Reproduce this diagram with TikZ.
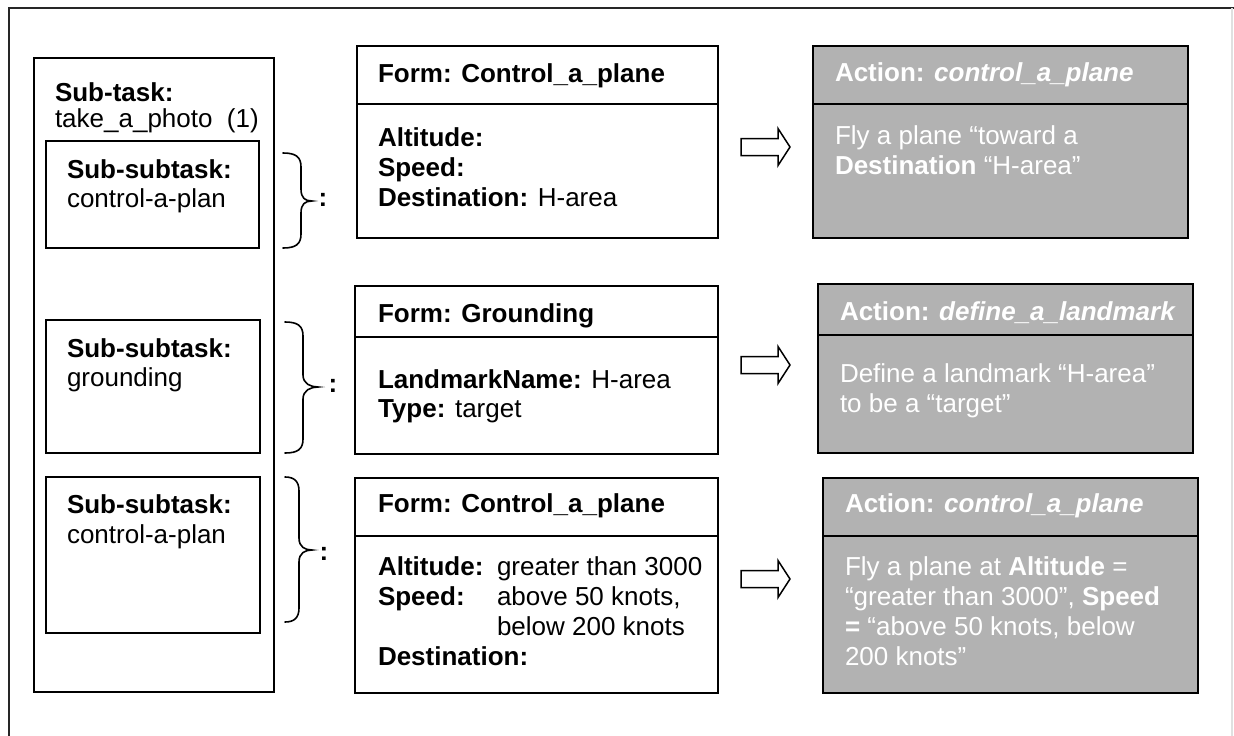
\documentclass[tikz,border=0pt]{standalone}
\usepackage{fontspec}
\setmainfont{Liberation Sans}
\definecolor{actgray}{RGB}{178,178,178}
\newcommand\curlybrace[6]{% x0, xm, xt, ytop, ymid, ybot
  \draw[bracestyle] (#1,#4) .. controls (#2-5,#4) and (#2,#4+4) .. (#2,#4+14)
    -- (#2,#5-12) .. controls (#2,#5-3) and (#3-7,#5) .. (#3,#5)
    .. controls (#3-7,#5) and (#2,#5+3) .. (#2,#5+12)
    -- (#2,#6-14) .. controls (#2,#6-4) and (#2-5,#6) .. (#1,#6);}
\begin{document}
\begin{tikzpicture}[x=1pt,y=-1pt,
  every node/.style={inner sep=0pt, outer sep=0pt},
  box/.style={draw=black, line width=2pt, anchor=north west},
  actbox/.style={box, fill=actgray},
  txt/.style={anchor=base west, font=\fontsize{26}{30}\selectfont},
  acttxt/.style={txt, text=white},
  colon/.style={anchor=base, font=\fontsize{26}{30}\selectfont\bfseries},
  bracestyle/.style={line width=1.6pt, line cap=round},
  blockarrow/.style={draw=black, line width=1.5pt, fill=white, line join=miter}
]
\useasboundingbox (0,0) rectangle (1234,736);

% outer frame
\draw[black!85, line width=2pt] (9,745) -- (9,8) -- (1234,8);
\draw[black!12, line width=1.5pt] (1232,8) -- (1232,745);

% ---------- sub-task column ----------
\node[box, minimum width=240pt, minimum height=634pt] (st) at (34,58) {};
\node[txt] (stl1) at (55,101) {\textbf{Sub-task:}};
\node[txt] (stl2) at (55,127) {take\_a\_photo~~(1)};

\node[box, minimum width=213pt, minimum height=107pt] (ss1) at (46,141) {};
\node[txt] (ss1a) at (67,178) {\textbf{Sub-subtask:}};
\node[txt] (ss1b) at (67,207) {control-a-plan};

\node[box, minimum width=214pt, minimum height=133pt] (ss2) at (46,320) {};
\node[txt] (ss2a) at (67,357) {\textbf{Sub-subtask:}};
\node[txt] (ss2b) at (67,386) {grounding};

\node[box, minimum width=214pt, minimum height=156pt] (ss3) at (46,477) {};
\node[txt] (ss3a) at (67,513) {\textbf{Sub-subtask:}};
\node[txt] (ss3b) at (67,543) {control-a-plan};

% ---------- braces and colons ----------
\curlybrace{283}{301}{312}{153}{201}{248}
\curlybrace{285}{303}{318}{322}{387}{453}
\curlybrace{285}{299}{312}{477}{550}{622}
\node[colon] (c1) at (323,206) {:};
\node[colon] (c2) at (333,392) {:};
\node[colon] (c3) at (324,560) {:};

% ---------- forms ----------
\node[box, minimum width=361pt, minimum height=192pt] (f1) at (357,46) {};
\draw[line width=2pt] (357,104) -- (718,104);
\node[txt] (f1t) at (378,82) {\textbf{Form: Control\_a\_plane}};
\node[txt] (f1a) at (378,146) {\textbf{Altitude:}};
\node[txt] (f1b) at (378,176) {\textbf{Speed:}};
\node[txt] (f1c) at (378,206) {\textbf{Destination:} H-area};

\node[box, minimum width=363pt, minimum height=168pt] (f2) at (355,286) {};
\draw[line width=2pt] (355,337) -- (718,337);
\node[txt] (f2t) at (378,322) {\textbf{Form: Grounding}};
\node[txt] (f2a) at (378,388) {\textbf{LandmarkName:} H-area};
\node[txt] (f2b) at (378,417) {\textbf{Type:} target};

\node[box, minimum width=363pt, minimum height=215pt] (f3) at (355,478) {};
\draw[line width=2pt] (355,536) -- (718,536);
\node[txt] (f3t) at (378,512) {\textbf{Form: Control\_a\_plane}};
\node[txt] (f3a) at (378,575) {\textbf{Altitude:}};
\node[txt] (f3av) at (497,575) {greater than 3000};
\node[txt] (f3b) at (378,605) {\textbf{Speed:}};
\node[txt] (f3bv) at (497,605) {above 50 knots,};
\node[txt] (f3bw) at (497,635) {below 200 knots};
\node[txt] (f3c) at (378,665) {\textbf{Destination:}};

% ---------- block arrows ----------
\foreach \c in {147,365,579}
  \draw[blockarrow] (741,\c-8.5) -- (778,\c-8.5) -- (778,\c-18.5) -- (790,\c)
    -- (778,\c+18.5) -- (778,\c+8.5) -- (741,\c+8.5) -- cycle;

% ---------- actions ----------
\node[actbox, minimum width=375pt, minimum height=192pt] (a1) at (813,46) {};
\draw[line width=2pt] (813,104) -- (1188,104);
\node[acttxt] (a1t) at (835,81) {\textbf{Action: \textit{control\_a\_plane}}};
\node[acttxt] (a1a) at (835,144) {Fly a plane “toward a};
\node[acttxt] (a1b) at (835,174) {\textbf{Destination} “H-area”};

\node[actbox, minimum width=375pt, minimum height=169pt] (a2) at (818,284) {};
\draw[line width=2pt] (818,335) -- (1193,335);
\node[acttxt] (a2t) at (840,320) {\textbf{Action: \textit{define\_a\_landmark}}};
\node[acttxt] (a2a) at (840,382) {Define a landmark “H-area”};
\node[acttxt] (a2b) at (840,412) {to be a “target”};

\node[actbox, minimum width=375pt, minimum height=215pt] (a3) at (823,478) {};
\draw[line width=2pt] (823,536) -- (1198,536);
\node[acttxt] (a3t) at (845,512) {\textbf{Action: \textit{control\_a\_plane}}};
\node[acttxt] (a3a) at (845,575) {Fly a plane at \textbf{Altitude} =};
\node[acttxt] (a3b) at (845,605) {“greater than 3000”, \textbf{Speed}};
\node[acttxt] (a3c) at (845,635) {\textbf{=} “above 50 knots, below};
\node[acttxt] (a3d) at (845,665) {200 knots”};
\end{tikzpicture}
\end{document}
